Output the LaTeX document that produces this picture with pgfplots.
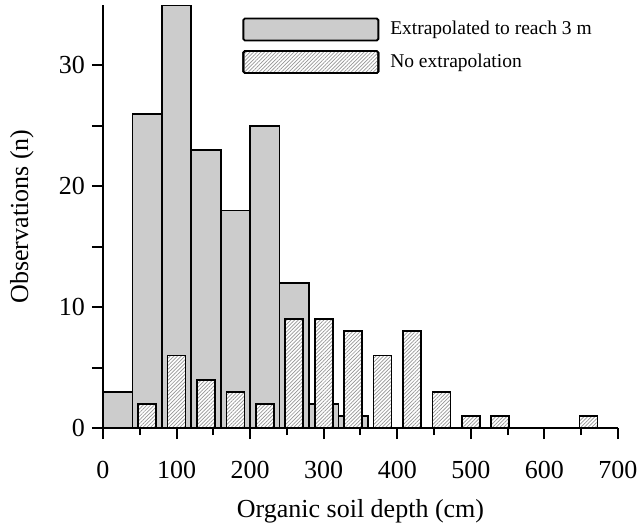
\documentclass[border=0pt]{standalone}
\usepackage{fontspec}
\setmainfont{Liberation Serif}
\usepackage{pgfplots}
\pgfplotsset{compat=1.18}
\usetikzlibrary{patterns.meta}
\definecolor{bargray}{RGB}{204,204,204}
\definecolor{hatchgray}{RGB}{150,150,150}

\pgfplotsset{
  boxlegend/.style={legend image code/.code={
    \draw[##1, rounded corners=0.8pt] (0pt,-5.5pt) rectangle (67.5pt,5.5pt);}},
}

\begin{document}
\begin{tikzpicture}
\begin{axis}[
  scale only axis,
  width=257.5pt, height=211.5pt,
  xmin=0, xmax=700, ymin=0, ymax=35,
  axis lines=left,
  axis line style={-, line width=1pt},
  tick align=outside,
  tick style={black, line width=1pt},
  major tick length=5.5pt, minor tick length=3.5pt,
  xtick={0,100,...,700}, minor xtick={50,150,...,650},
  ytick={0,10,20,30},
  extra y ticks={5,15,25}, extra y tick labels={},
  ybar,
  /pgf/number format/assume math mode=true,
  ticklabel style={font=\fontsize{13}{15}\selectfont},
  xticklabel style={yshift=-7.5pt},
  every axis x label/.style={at={(rel axis cs:0.5,0)}, yshift=-41.5pt, anchor=center,
    font=\fontsize{13}{15}\selectfont},
  every axis y label/.style={at={(rel axis cs:0,0.5)}, xshift=-40.5pt, rotate=90, anchor=center,
    font=\fontsize{13}{15}\selectfont},
  xlabel={Organic soil depth (cm)},
  ylabel={Observations (n)},
  legend style={at={(0.27,0.972)}, anchor=north west, draw=none, fill=none,
    inner sep=0pt, row sep=4pt, font=\fontsize{9.75}{12}\selectfont},
  legend cell align=left,
]
% extrapolated to reach 3 m (40 cm bins)
\addplot[boxlegend, fill=bargray, draw=black, line width=0.9pt, bar width=40, bar shift=0pt]
  coordinates {(20,3) (60,26) (100,35) (140,23) (180,18) (220,25) (260,12) (300,2) (340,1)};
\addlegendentry{\hspace*{3.5pt}Extrapolated to reach 3 m}
% no extrapolation
\addplot[boxlegend, fill=white, draw=black, line width=0.9pt, bar width=24.5, bar shift=0pt,
  postaction={pattern color=hatchgray, pattern={Lines[angle=45, distance=1.3pt, line width=0.35pt]}}]
  coordinates {(60,2) (100,6) (140,4) (180,3) (220,2) (260,9) (300,9) (340,8) (380,6)
    (420,8) (460,3) (500,1) (540,1) (660,1)};
\addlegendentry{\hspace*{3.5pt}No extrapolation}
\end{axis}
\pgfresetboundingbox
\useasboundingbox (-51.5pt,-51pt) rectangle (268.5pt,214pt);
\end{tikzpicture}
\end{document}
